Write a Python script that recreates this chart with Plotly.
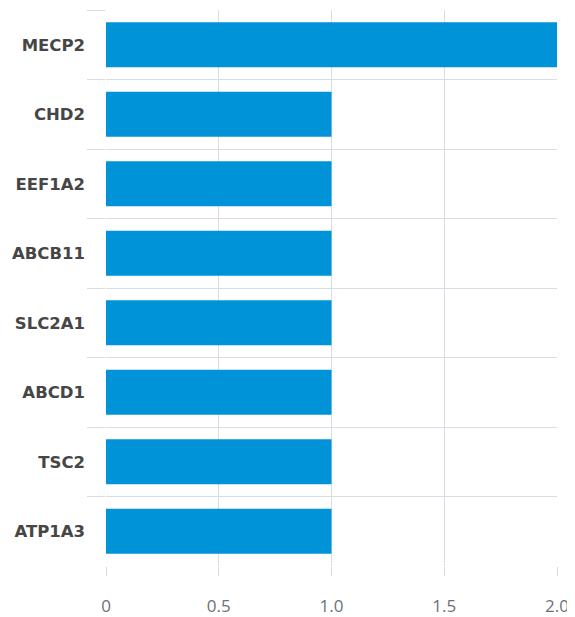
import plotly.graph_objects as go

genes = ["MECP2", "CHD2", "EEF1A2", "ABCB11", "SLC2A1", "ABCD1", "TSC2", "ATP1A3"]
counts = [2, 1, 1, 1, 1, 1, 1, 1]
x_ticks = [0, 0.5, 1.0, 1.5, 2.0]
x_tick_labels = ["0", "0.5", "1.0", "1.5", "2.0"]

grid = "#d6dde7"

fig = go.Figure(go.Bar(
    x=counts, y=genes, orientation="h",
    marker=dict(color="#0093d7", line=dict(width=0)),
    hoverinfo="x+y",
))

# page body has an 8px default margin; size the figure to fill the rest
fig.update_layout(
    width=567, height=609,
    margin=dict(l=98, r=18, t=2, b=51),
    paper_bgcolor="white", plot_bgcolor="white",
    bargap=0.35,
    showlegend=False,
    font=dict(family="Open Sans"),
)
fig.update_xaxes(
    range=[0, 2], tickvals=x_ticks, ticktext=x_tick_labels,
    showgrid=True, gridcolor=grid, gridwidth=1, zeroline=False,
    ticks="outside", ticklen=9, tickcolor=grid, tickwidth=1,
    ticklabelstandoff=16, automargin=False,
    tickfont=dict(size=17, color="#6e7079", family="Open Sans"),
    showline=False, fixedrange=True,
)
fig.update_yaxes(
    type="category", autorange="reversed",
    tickson="boundaries", showgrid=True, gridcolor=grid, gridwidth=1,
    ticks="outside", ticklen=18, tickcolor=grid, tickwidth=1,
    ticklabelstandoff=20, automargin=False,
    tickfont=dict(size=16.5, color="#464646", family="DejaVu Sans", weight="bold"),
    showline=False, zeroline=False, fixedrange=True,
)

fig.write_html("out.html")
